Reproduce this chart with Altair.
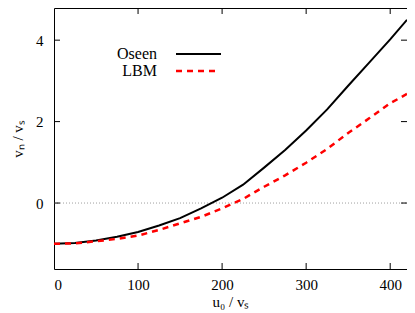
import altair as alt
import pandas as pd

u_vals = [0, 25, 50, 75, 100, 125, 150, 175, 200, 225, 250, 275, 300, 325, 350, 375, 400, 420]
oseen = [-1.0, -0.98, -0.92, -0.83, -0.71, -0.55, -0.37, -0.13, 0.13, 0.45, 0.87, 1.3, 1.78, 2.3, 2.88, 3.45, 4.02, 4.5]
lbm = [-1.0, -0.99, -0.94, -0.88, -0.8, -0.66, -0.5, -0.34, -0.13, 0.1, 0.4, 0.68, 0.99, 1.33, 1.72, 2.08, 2.45, 2.68]
x_ticks = [0, 100, 200, 300, 400]
y_ticks = [0, 2, 4]
legend_names = ["Oseen", "LBM"]

W, H = 353, 261
FONT = "Liberation Serif"

df = pd.DataFrame({"u": u_vals, "Oseen": oseen, "LBM": lbm})
xs = alt.Scale(domain=[0, 420], nice=False, zero=False)
ys = alt.Scale(domain=[-1.62, 4.79], nice=False, zero=False)

ax_style = dict(labelFont=FONT, labelFontSize=15, labelColor="black", titleFont=FONT, titleFontSize=15,
                titleFontWeight="normal", titleColor="black", ticks=False, domain=False, grid=False, format="d")
xenc = alt.X("u:Q", scale=xs, axis=alt.Axis(values=x_ticks, title="u₀ / vₛ", labelPadding=8,
                                            titleY=37, titleBaseline="alphabetic", **ax_style))
yenc_axis = alt.Axis(values=y_ticks, title="vₙ / vₛ", labelPadding=11, titlePadding=10, **ax_style)

zero = alt.Chart(pd.DataFrame({"z": [0]})).mark_rule(color="#888", strokeWidth=0.8, strokeDash=[1, 2]).encode(
    y=alt.Y("z:Q", scale=ys, axis=yenc_axis), x=alt.value(0), x2=alt.value(W))

line_o = alt.Chart(df).mark_line(color="black", strokeWidth=2).encode(
    x=xenc, y=alt.Y("Oseen:Q", scale=ys, axis=yenc_axis))
line_l = alt.Chart(df).mark_line(color="#ff0000", strokeWidth=2.5, strokeDash=[6, 5]).encode(
    x=alt.X("u:Q", scale=xs), y=alt.Y("LBM:Q", scale=ys))

xt = pd.DataFrame({"t": x_ticks[1:]})
yt = pd.DataFrame({"t": y_ticks})
tk = dict(color="black", strokeWidth=1)
tick_b = alt.Chart(xt).mark_rule(**tk).encode(x=alt.X("t:Q", scale=xs), y=alt.value(H), y2=alt.value(H - 6))
tick_t = alt.Chart(xt).mark_rule(**tk).encode(x=alt.X("t:Q", scale=xs), y=alt.value(0), y2=alt.value(6))
tick_l = alt.Chart(yt).mark_rule(**tk).encode(y=alt.Y("t:Q", scale=ys), x=alt.value(0), x2=alt.value(6))
tick_r = alt.Chart(yt).mark_rule(**tk).encode(y=alt.Y("t:Q", scale=ys), x=alt.value(W), x2=alt.value(W - 6))

leg_text = alt.Chart(pd.DataFrame({"n": legend_names, "yy": [46, 63]})).mark_text(
    align="right", baseline="middle", font=FONT, fontSize=16, color="black").encode(
    text="n:N", x=alt.value(103), y=alt.Y("yy:Q", scale=None))
leg_o = alt.Chart(pd.DataFrame({"a": [0]})).mark_rule(color="black", strokeWidth=2).encode(
    x=alt.value(122), x2=alt.value(167), y=alt.value(46))
leg_l = alt.Chart(pd.DataFrame({"a": [0]})).mark_rule(color="#ff0000", strokeWidth=2.5, strokeDash=[6, 5]).encode(
    x=alt.value(122), x2=alt.value(162), y=alt.value(63))

chart = alt.layer(zero, line_o, line_l, tick_b, tick_t, tick_l, tick_r, leg_text, leg_o, leg_l).properties(
    width=W, height=H, autosize=alt.AutoSizeParams(type="none"),
    padding={"left": 46, "top": 0, "right": 0, "bottom": 44}
).configure_view(stroke="black", strokeWidth=1)

chart.save("out.html", embed_options={"renderer": "svg", "actions": False})
